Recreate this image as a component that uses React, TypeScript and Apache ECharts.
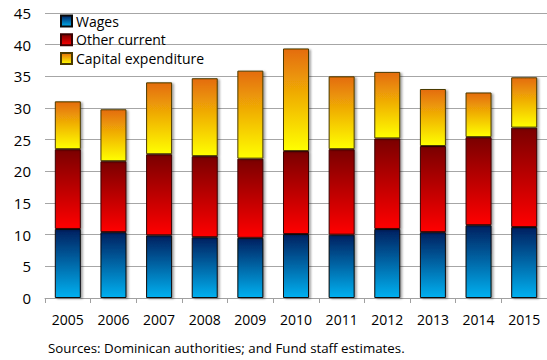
import React, { useEffect, useRef } from "react";
import * as echarts from "echarts";

const years = ["2005", "2006", "2007", "2008", "2009", "2010", "2011", "2012", "2013", "2014", "2015"];
const wages = [10.9, 10.4, 9.9, 9.6, 9.5, 10.1, 10.0, 10.9, 10.4, 11.5, 11.2];
const otherCurrent = [12.6, 11.2, 12.8, 12.8, 12.5, 13.1, 13.5, 14.3, 13.6, 13.9, 15.7];
const capitalExpenditure = [7.55, 8.2, 11.35, 12.3, 13.9, 16.2, 11.5, 10.5, 9.0, 7.05, 7.95];
const yTicks = { min: 0, max: 45, interval: 5 };
const source = "Sources: Dominican authorities; and Fund staff estimates.";

const FONT = "'Open Sans', sans-serif";

function grad(top: string, bottom: string) {
  return new echarts.graphic.LinearGradient(0, 0, 0, 1, [
    { offset: 0, color: top },
    { offset: 1, color: bottom },
  ]);
}

export default function App() {
  const ref = useRef<HTMLDivElement>(null);
  useEffect(() => {
    if (!ref.current) return;
    const chart = echarts.init(ref.current, null, { renderer: "svg" });
    const shadow = {
      shadowColor: "rgba(0,0,0,0.35)",
      shadowOffsetX: 2,
      shadowOffsetY: 1,
      shadowBlur: 2,
    };
    const mk = (name: string, data: number[], top: string, bottom: string, border: string) => ({
      name,
      type: "bar",
      stack: "total",
      data,
      barWidth: "57%",
      itemStyle: {
        color: grad(top, bottom),
        borderColor: border,
        borderWidth: 1,
        ...shadow,
      },
    });
    chart.setOption({
      animation: false,
      grid: { left: 45, right: -2, top: 13, bottom: 62, containLabel: false },
      legend: {
        orient: "vertical",
        left: 60,
        top: 14,
        padding: 0,
        itemWidth: 11,
        itemHeight: 11,
        itemGap: 4.7,
        icon: "rect",
        textStyle: { fontFamily: FONT, fontSize: 14, color: "#000", lineHeight: 14, padding: [0, 0, 0, -1] },
        data: ["Wages", "Other current", "Capital expenditure"],
      },
      xAxis: {
        type: "category",
        data: years,
        axisLine: { lineStyle: { color: "#a0a0a0", width: 1 } },
        axisTick: { show: true, length: 5, lineStyle: { color: "#a0a0a0" } },
        axisLabel: { fontFamily: FONT, fontSize: 14, color: "#000", margin: 14 },
      },
      yAxis: {
        type: "value",
        min: yTicks.min,
        max: yTicks.max,
        interval: yTicks.interval,
        axisLine: { show: false },
        axisTick: { show: false },
        axisLabel: { fontFamily: FONT, fontSize: 15, color: "#000", margin: 14 },
        splitLine: { lineStyle: { color: "#a6a6a6", width: 1.2 } },
      },
      graphic: [
        {
          type: "text",
          left: 48,
          top: 341,
          style: { text: source, fontFamily: FONT, fontSize: 13.3, fill: "#000" },
        },
      ],
      series: [
        mk("Wages", wages, "#002060", "#00b0f0", "#0a0a0a"),
        mk("Other current", otherCurrent, "#7a0000", "#ff0000", "#3a0000"),
        mk("Capital expenditure", capitalExpenditure, "#e46c0a", "#ffff00", "#4a3a00"),
      ],
    });
    return () => chart.dispose();
  }, []);
  return <div ref={ref} style={{ width: 547, height: 360, position: "absolute", left: 0, top: 0 }} />;
}
